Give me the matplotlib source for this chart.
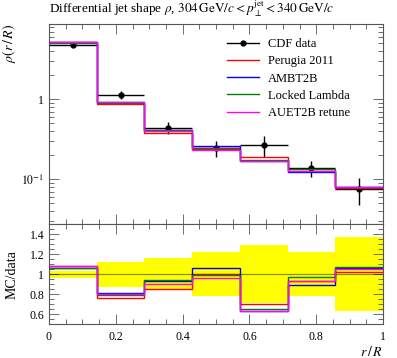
import numpy as np
import matplotlib
matplotlib.use("Agg")
import matplotlib.pyplot as plt
from matplotlib.lines import Line2D
from matplotlib.ticker import MultipleLocator, FixedLocator, FuncFormatter, LogLocator, NullFormatter

plt.rcParams['font.family'] = ['Liberation Serif', 'DejaVu Serif']
plt.rcParams['mathtext.fontset'] = 'stix'

# ---- data ----
edges = [0.0, 1/7, 2/7, 3/7, 4/7, 5/7, 6/7, 1.0]
data = [4.81, 1.14, 0.442, 0.244, 0.271, 0.137, 0.0757]
data_relerr = [0.035, 0.125, 0.16, 0.22, 0.29, 0.22, 0.37]

perugia2011 = [5.19, 0.872, 0.376, 0.244, 0.190, 0.128, 0.0772]
ambt2b = [5.12, 0.930, 0.411, 0.259, 0.171, 0.122, 0.0806]
locked_lambda = [5.10, 0.896, 0.415, 0.242, 0.175, 0.133, 0.0810]
auet2b_retune = [5.19, 0.915, 0.398, 0.234, 0.171, 0.127, 0.0795]

mc_names = ["Perugia 2011", "AMBT2B", "Locked Lambda", "AUET2B retune"]
mc_values = [perugia2011, ambt2b, locked_lambda, auet2b_retune]
mc_colors = ["#ff0000", "#0000ff", "#008000", "#ff00ff"]

edges = np.array(edges)
data = np.array(data)
relerr = np.array(data_relerr)
centres = 0.5 * (edges[1:] + edges[:-1])
halfw = 0.5 * (edges[1:] - edges[:-1])

W, H = 397, 358
fig = plt.figure(figsize=(W / 100, H / 100), dpi=100)
ax1 = fig.add_axes([49 / W, 1 - 224.3 / H, 334 / W, 200.3 / H])
ax2 = fig.add_axes([49 / W, 1 - 324 / H, 334 / W, 99.7 / H])

axcol = '#555555'
for ax in (ax1, ax2):
    for s in ax.spines.values():
        s.set_color(axcol)
        s.set_linewidth(0.8)
    ax.tick_params(which='both', direction='in', top=True, right=True,
                   color=axcol, labelsize=8.5, width=0.6)
    ax.tick_params(which='major', length=7)
    ax.tick_params(which='minor', length=3.5)

# ---- main panel ----
ax1.errorbar(centres, data, xerr=halfw, yerr=data * relerr, fmt='o', color='black',
             ms=3.5, lw=1.0, capsize=0, zorder=3)
handles = [Line2D([], [], color='black', marker='o', ms=3.5, lw=1.0)]
labels = ['CDF data']
for name, vals, col in zip(mc_names, mc_values, mc_colors):
    ax1.stairs(vals, edges, baseline=None, color=col, lw=1.0, zorder=4)
    handles.append(Line2D([], [], color=col, lw=1.0))
    labels.append(name)

ax1.set_yscale('log')
ax1.set_xlim(0, 1)
ax1.set_ylim(0.0274, 8.7)
ax1.yaxis.set_major_locator(FixedLocator([0.1, 1]))
ax1.yaxis.set_minor_locator(LogLocator(base=10, subs=np.arange(2, 10)))
ax1.yaxis.set_minor_formatter(NullFormatter())

def logfmt(v, pos):
    if abs(v - 1) < 1e-9:
        return '1'
    if abs(v - 0.1) < 1e-9:
        return r'$10^{-1}$'
    return ''
ax1.yaxis.set_major_formatter(FuncFormatter(logfmt))
ax1.xaxis.set_major_locator(MultipleLocator(0.2))
ax1.xaxis.set_minor_locator(MultipleLocator(0.05))
ax1.tick_params(axis='x', labelbottom=False)
ax1.set_ylabel(r'$\rho(r\,/\,R)$', loc='top', fontsize=10)
ax1.yaxis.set_label_coords(-0.092, 1.0)

ax1.legend(handles, labels, loc='upper left', bbox_to_anchor=(0.532, 0.93), frameon=False,
           fontsize=9, borderpad=0, borderaxespad=0, handlelength=2.6,
           handletextpad=0.7, labelspacing=0.42)

# ---- ratio panel ----
ax2.stairs(1 + relerr, edges, baseline=1 - relerr, fill=True, color='#ffff00', lw=0, zorder=1)
ax2.stairs(data / data, edges, baseline=None, color='black', alpha=0.45, lw=0.9, zorder=2)
for vals, col in zip(mc_values, mc_colors):
    ax2.stairs(np.array(vals) / data, edges, baseline=None, color=col, lw=1.0, zorder=3)

ax2.set_xlim(0, 1)
ax2.set_ylim(0.5, 1.5)
ax2.xaxis.set_major_locator(MultipleLocator(0.2))
ax2.xaxis.set_minor_locator(MultipleLocator(0.05))
ax2.yaxis.set_major_locator(MultipleLocator(0.2))
ax2.yaxis.set_minor_locator(MultipleLocator(0.05))

def xfmt(v, pos):
    if abs(v) < 1e-9:
        return '0'
    if abs(v - 1) < 1e-9:
        return '1'
    return ('%.1f' % v)
def yfmt(v, pos):
    if abs(v - 1) < 1e-9:
        return '1'
    return ('%.1f' % v)
ax2.xaxis.set_major_formatter(FuncFormatter(xfmt))
ax2.yaxis.set_major_formatter(FuncFormatter(yfmt))
ax2.tick_params(axis='x', pad=5)
ax2.set_ylabel('MC/data', fontsize=10)
ax2.yaxis.set_label_coords(-0.092, 0.5)
ax2.set_xlabel(r'$r\,/\,R$', loc='right', fontsize=10)
ax2.xaxis.set_label_coords(1.0, -0.215)

fig.text(49 / W, 1 - 13.5 / H,
         r'Differential jet shape $\rho$, $304\,\mathrm{GeV}/c < p_\perp^{\mathrm{jet}} < 340\,\mathrm{GeV}/c$',
         fontsize=9.5, ha='left', va='baseline')

fig.savefig('out.png', dpi=100)
